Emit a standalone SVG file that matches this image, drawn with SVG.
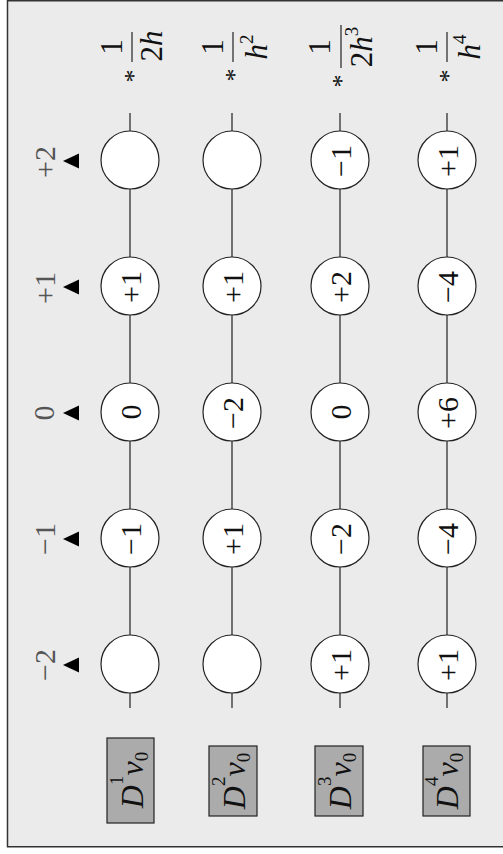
<svg xmlns="http://www.w3.org/2000/svg" width="503" height="854" viewBox="0 0 503 854">
<style>
text{font-family:"Liberation Serif","Times New Roman",Times,serif}
.frame{fill:#ebebeb;stroke:#333;stroke-width:1.5}
.edge{stroke:#222;stroke-width:1.2;fill:none}
.node{fill:#fff;stroke:#222;stroke-width:1.2}
.v{font-size:30px;fill:#111;text-anchor:middle}
.lab{font-size:30px;fill:#555;text-anchor:middle}
.tri{fill:#000}
.fr{font-size:31px;fill:#111;text-anchor:middle}
.it{font-style:italic}
.star{font-size:26px;fill:#111;text-anchor:middle}
.box{fill:#ababab;stroke:#222;stroke-width:1.2}
.dl{font-size:32px;fill:#111;text-anchor:middle}
</style>
<rect class="frame" x="7.5" y="0.75" width="500" height="846"/>

<g id="connectors">
<path class="edge" d="M130 113V131M130 189V257M130 315V383M130 441V509M130 567V635M130 693V708"/>
<path class="edge" d="M232 113V131M232 189V257M232 315V383M232 441V509M232 567V635M232 693V708"/>
<path class="edge" d="M340 113V131M340 189V257M340 315V383M340 441V509M340 567V635M340 693V708"/>
<path class="edge" d="M447 113V131M447 189V257M447 315V383M447 441V509M447 567V635M447 693V708"/>
</g>

<g id="row-labels">
<g id="lab-p2"><text class="lab" x="55" y="162" transform="rotate(-90 55 162)">+2</text><polygon class="tri" points="63,161 79,153.5 79,168.5"/></g>
<g id="lab-p1"><text class="lab" x="55" y="288" transform="rotate(-90 55 288)">+1</text><polygon class="tri" points="63,287 79,279.5 79,294.5"/></g>
<g id="lab-0"><text class="lab" x="54" y="413" transform="rotate(-90 54 413)">0</text><polygon class="tri" points="63,413 79,405.5 79,420.5"/></g>
<g id="lab-m1"><text class="lab" x="55" y="539" transform="rotate(-90 55 539)">−1</text><polygon class="tri" points="63,539 79,531.5 79,546.5"/></g>
<g id="lab-m2"><text class="lab" x="55" y="665" transform="rotate(-90 55 665)">−2</text><polygon class="tri" points="63,665 79,657.5 79,672.5"/></g>
</g>

<!-- column 1 -->
<g id="c1-p2"><circle class="node" cx="130" cy="160" r="29"/></g>
<g id="c1-p1"><circle class="node" cx="130" cy="286" r="29"/><text class="v" x="141" y="287" transform="rotate(-90 141 287)">+1</text></g>
<g id="c1-0"><circle class="node" cx="130" cy="412" r="29"/><text class="v" x="141" y="412" transform="rotate(-90 141 412)">0</text></g>
<g id="c1-m1"><circle class="node" cx="130" cy="538" r="29"/><text class="v" x="141" y="539" transform="rotate(-90 141 539)">−1</text></g>
<g id="c1-m2"><circle class="node" cx="130" cy="664" r="29"/></g>

<!-- column 2 -->
<g id="c2-p2"><circle class="node" cx="232" cy="160" r="29"/></g>
<g id="c2-p1"><circle class="node" cx="232" cy="286" r="29"/><text class="v" x="243" y="287" transform="rotate(-90 243 287)">+1</text></g>
<g id="c2-0"><circle class="node" cx="232" cy="412" r="29"/><text class="v" x="243" y="413" transform="rotate(-90 243 413)">−2</text></g>
<g id="c2-m1"><circle class="node" cx="232" cy="538" r="29"/><text class="v" x="243" y="539" transform="rotate(-90 243 539)">+1</text></g>
<g id="c2-m2"><circle class="node" cx="232" cy="664" r="29"/></g>

<!-- column 3 -->
<g id="c3-p2"><circle class="node" cx="340" cy="160" r="29"/><text class="v" x="351" y="161" transform="rotate(-90 351 161)">−1</text></g>
<g id="c3-p1"><circle class="node" cx="340" cy="286" r="29"/><text class="v" x="351" y="287" transform="rotate(-90 351 287)">+2</text></g>
<g id="c3-0"><circle class="node" cx="340" cy="412" r="29"/><text class="v" x="351" y="412" transform="rotate(-90 351 412)">0</text></g>
<g id="c3-m1"><circle class="node" cx="340" cy="538" r="29"/><text class="v" x="351" y="539" transform="rotate(-90 351 539)">−2</text></g>
<g id="c3-m2"><circle class="node" cx="340" cy="664" r="29"/><text class="v" x="351" y="665" transform="rotate(-90 351 665)">+1</text></g>

<!-- column 4 -->
<g id="c4-p2"><circle class="node" cx="447" cy="160" r="29"/><text class="v" x="458" y="161" transform="rotate(-90 458 161)">+1</text></g>
<g id="c4-p1"><circle class="node" cx="447" cy="286" r="29"/><text class="v" x="458" y="287" transform="rotate(-90 458 287)">−4</text></g>
<g id="c4-0"><circle class="node" cx="447" cy="412" r="29"/><text class="v" x="458" y="413" transform="rotate(-90 458 413)">+6</text></g>
<g id="c4-m1"><circle class="node" cx="447" cy="538" r="29"/><text class="v" x="458" y="539" transform="rotate(-90 458 539)">−4</text></g>
<g id="c4-m2"><circle class="node" cx="447" cy="664" r="29"/><text class="v" x="458" y="665" transform="rotate(-90 458 665)">+1</text></g>

<!-- factors -->
<g id="f1">
<text class="star" x="142" y="76" transform="rotate(-90 142 76)">*</text>
<text class="fr" x="122" y="47" transform="rotate(-90 122 47)">1</text>
<line class="edge" x1="132" y1="32" x2="132" y2="62"/>
<text class="fr" x="162" y="46" transform="rotate(-90 162 46)">2<tspan class="it">h</tspan></text>
</g>
<g id="f2">
<text class="star" x="243" y="75" transform="rotate(-90 243 75)">*</text>
<text class="fr" x="223" y="47" transform="rotate(-90 223 47)">1</text>
<line class="edge" x1="233" y1="32" x2="233" y2="62"/>
<text class="fr" x="267" y="47" transform="rotate(-90 267 47)"><tspan class="it">h</tspan><tspan dy="-14" font-size="19">2</tspan></text>
</g>
<g id="f3">
<text class="star" x="350" y="81" transform="rotate(-90 350 81)">*</text>
<text class="fr" x="330" y="47" transform="rotate(-90 330 47)">1</text>
<line class="edge" x1="341" y1="25" x2="341" y2="68"/>
<text class="fr" x="372" y="47" transform="rotate(-90 372 47)">2<tspan class="it">h</tspan><tspan dy="-14" font-size="19">3</tspan></text>
</g>
<g id="f4">
<text class="star" x="457" y="76" transform="rotate(-90 457 76)">*</text>
<text class="fr" x="437" y="47" transform="rotate(-90 437 47)">1</text>
<line class="edge" x1="447" y1="32" x2="447" y2="62"/>
<text class="fr" x="480" y="47" transform="rotate(-90 480 47)"><tspan class="it">h</tspan><tspan dy="-14" font-size="19">4</tspan></text>
</g>

<!-- operator boxes -->
<g id="d1"><rect class="box" x="107" y="738" width="47" height="85"/>
<text class="dl" x="143" y="780" transform="rotate(-90 143 780)"><tspan class="it">D</tspan><tspan dy="-20" font-size="19">1</tspan><tspan class="it" dy="20">v</tspan><tspan dy="5" font-size="19">0</tspan></text></g>
<g id="d2"><rect class="box" x="209" y="746" width="48" height="70"/>
<text class="dl" x="245" y="781" transform="rotate(-90 245 781)"><tspan class="it">D</tspan><tspan dy="-20" font-size="19">2</tspan><tspan class="it" dy="20">v</tspan><tspan dy="5" font-size="19">0</tspan></text></g>
<g id="d3"><rect class="box" x="315" y="746" width="48" height="70"/>
<text class="dl" x="351" y="781" transform="rotate(-90 351 781)"><tspan class="it">D</tspan><tspan dy="-20" font-size="19">3</tspan><tspan class="it" dy="20">v</tspan><tspan dy="5" font-size="19">0</tspan></text></g>
<g id="d4"><rect class="box" x="423" y="746" width="47" height="70"/>
<text class="dl" x="458" y="781" transform="rotate(-90 458 781)"><tspan class="it">D</tspan><tspan dy="-20" font-size="19">4</tspan><tspan class="it" dy="20">v</tspan><tspan dy="5" font-size="19">0</tspan></text></g>
</svg>
